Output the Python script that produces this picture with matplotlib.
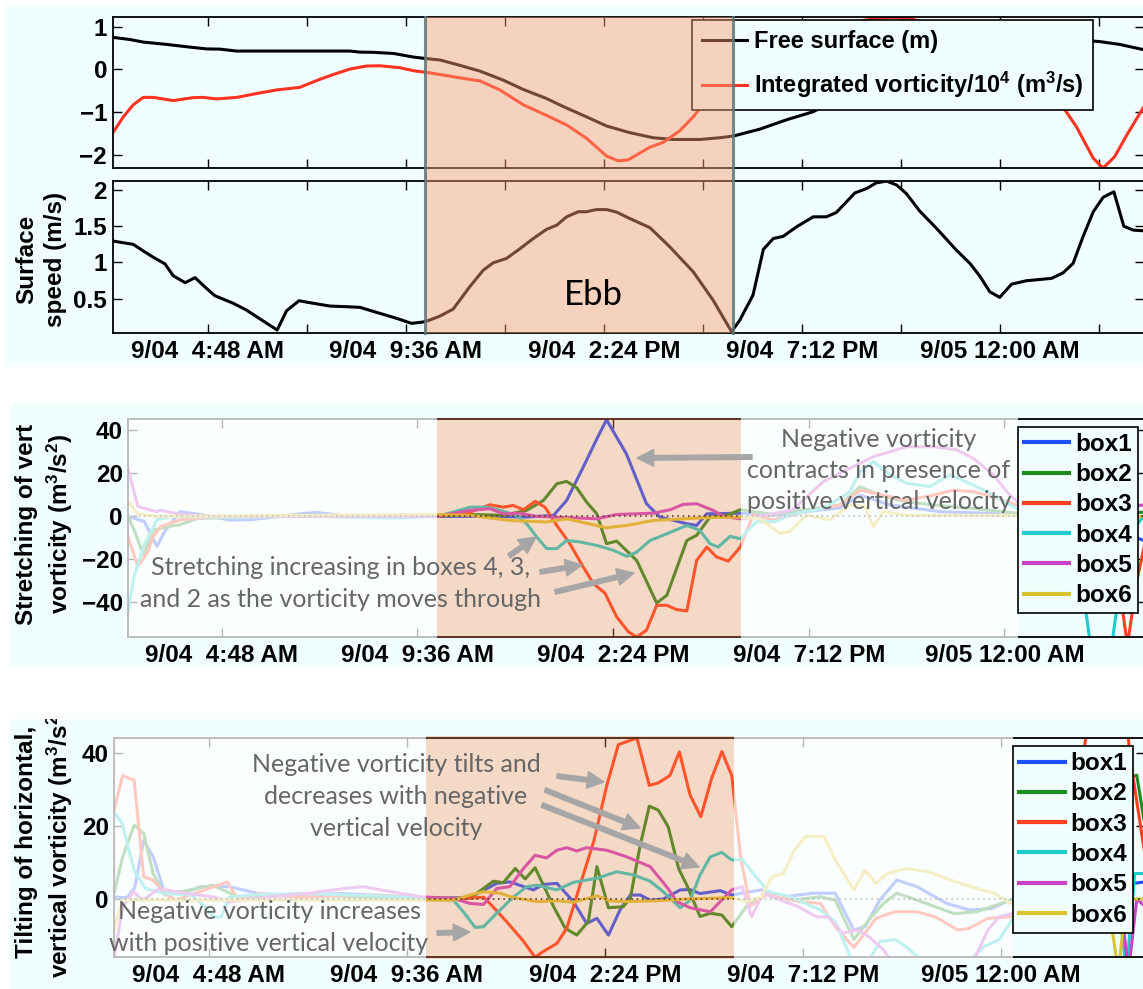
import matplotlib
matplotlib.use("Agg")
import matplotlib.pyplot as plt
from matplotlib.patches import Rectangle, FancyArrowPatch, ArrowStyle
from matplotlib.lines import Line2D
from matplotlib.transforms import blended_transform_factory

plt.rcParams['font.family'] = ['Liberation Sans', 'DejaVu Sans']
plt.rcParams['font.weight'] = 'bold'
plt.rcParams['mathtext.fontset'] = 'custom'
plt.rcParams['mathtext.rm'] = 'Liberation Sans:bold'
plt.rcParams['mathtext.it'] = 'Liberation Sans:bold'
plt.rcParams['mathtext.bf'] = 'Liberation Sans:bold'

# ---------------------------------------------------------------- time axis
# hours since 9/04 00:00
T_START, T_END = 2.5, 27.5
EBB_START, EBB_END = 10.07, 17.53
XTICKS = [4.8, 9.6, 14.4, 19.2, 24.0]
XLABELS = ['9/04  4:48 AM', '9/04  9:36 AM', '9/04  2:24 PM', '9/04  7:12 PM', '9/05 12:00 AM']
MINOR_TICKS = [7.2, 12.0, 16.8, 21.6, 26.4]

# ---------------------------------------------------------------- top panel
FREE_T = [2.5, 2.91, 3.23, 3.80, 4.29, 4.77, 5.09, 5.50, 6.23, 7.00, 8.25, 8.49, 8.81, 9.30, 9.78,
          10.06, 10.43, 10.83, 11.40, 11.96, 12.45, 13.01, 13.42, 13.98, 14.47, 15.03, 15.60, 16.08,
          16.73, 17.21, 17.54, 18.18, 18.83, 19.48, 19.80, 20.5, 21.2, 22.0, 22.8, 23.6, 24.4, 25.2,
          25.8, 26.18, 26.44, 26.91, 27.5]
FREE_V = [0.75, 0.70, 0.64, 0.585, 0.53, 0.48, 0.475, 0.43, 0.43, 0.43, 0.43, 0.405, 0.40, 0.374, 0.29,
          0.257, 0.22, 0.117, -0.04, -0.25, -0.47, -0.68, -0.87, -1.11, -1.325, -1.48, -1.60, -1.64,
          -1.64, -1.60, -1.56, -1.40, -1.18, -0.99, -0.83, -0.55, -0.28, 0.02, 0.30, 0.50, 0.62, 0.70,
          0.70, 0.67, 0.65, 0.585, 0.46]

VORT_T = [2.5, 2.75, 2.99, 3.23, 3.48, 3.96, 4.45, 4.69, 5.01, 5.50, 6.06, 6.47, 7.03, 7.52, 7.84,
          8.25, 8.65, 8.97, 9.46, 9.78, 10.18, 10.43, 10.99, 11.40, 11.88, 12.45, 12.93, 13.50, 13.98,
          14.47, 14.75, 14.99, 15.52, 15.84, 16.25, 16.57, 16.81, 17.5, 18.5, 19.5, 20.5, 21.05, 21.4,
          21.8, 22.5, 23.5, 24.5, 25.0, 25.5, 25.86, 26.27, 26.51, 26.79, 27.08, 27.5]
VORT_V = [-1.48, -1.11, -0.83, -0.655, -0.655, -0.73, -0.66, -0.655, -0.69, -0.655, -0.55, -0.48, -0.42,
          -0.23, -0.12, 0.01, 0.08, 0.085, 0.04, -0.03, -0.08, -0.12, -0.21, -0.27, -0.48, -0.83, -1.04,
          -1.30, -1.61, -2.03, -2.14, -2.12, -1.82, -1.71, -1.43, -1.11, -0.82, -0.2, 0.4, 0.85, 1.12,
          1.2, 1.22, 1.2, 1.0, 0.6, 0.0, -0.4, -0.83, -1.34, -2.08, -2.31, -2.04, -1.54, -0.87]

SPEED_T = [2.5, 2.99, 3.23, 3.48, 3.76, 3.96, 4.25, 4.49, 4.74, 4.97, 5.42, 5.74, 6.23, 6.48, 6.71,
           7.01, 7.28, 7.76, 8.17, 8.49, 8.89, 9.38, 9.74, 10.06, 10.18, 10.43, 10.75, 11.15, 11.48,
           11.72, 12.04, 12.37, 12.69, 13.01, 13.26, 13.50, 13.78, 13.98, 14.22, 14.47, 14.71, 15.03,
           15.52, 16.00, 16.57, 17.05, 17.50, 17.70, 18.02, 18.27, 18.51, 18.75, 19.07, 19.48, 19.80,
           20.04, 20.49, 20.77, 21.01, 21.26, 21.50, 21.74, 22.06, 22.47, 22.95, 23.28, 23.52, 23.76,
           24.00, 24.29, 24.65, 25.26, 25.54, 25.78, 26.02, 26.27, 26.51, 26.77, 27.01, 27.24, 27.5]
SPEED_V = [1.295, 1.25, 1.16, 1.07, 0.98, 0.816, 0.72, 0.79, 0.655, 0.54, 0.434, 0.34, 0.158, 0.066,
           0.333, 0.47, 0.443, 0.397, 0.388, 0.379, 0.31, 0.227, 0.158, 0.18, 0.204, 0.259, 0.356, 0.664,
           0.894, 0.995, 1.055, 1.19, 1.33, 1.456, 1.515, 1.63, 1.70, 1.70, 1.73, 1.73, 1.695, 1.607,
           1.48, 1.216, 0.87, 0.48, 0.043, 0.204, 0.55, 1.18, 1.33, 1.36, 1.49, 1.63, 1.63, 1.69, 1.96,
           2.02, 2.10, 2.123, 2.07, 1.95, 1.71, 1.47, 1.17, 0.986, 0.81, 0.595, 0.517, 0.70, 0.747,
           0.78, 0.857, 0.986, 1.354, 1.70, 1.90, 1.976, 1.50, 1.446, 1.437]

# ---------------------------------------------------------------- stretching of vertical vorticity
S1_T = [2.5, 2.9, 3.21, 3.40, 3.77, 4.24, 5.0, 5.55, 6.87, 7.15, 7.81, 8.75, 9.22, 10.06, 11.3, 12.28,
        12.94, 13.26, 13.67, 14.0, 14.24, 14.73, 15.22, 15.55, 16.21, 16.45, 16.7, 17.52, 18.3, 19.15,
        19.97, 20.46, 21.2, 22.42, 24.3, 25.5, 26.5, 27.5]
S1_V = [0, -2.4, -14, -7, 2.2, 1, -1.7, -1.5, 1.5, 1.8, 0.3, -0.5, 0.5, 0, 0, -0.3, 0.5, 7.4, 23, 36,
        45, 29, 5.9, -0.3, -3.4, -4.2, 1.2, 1.5, 0.5, 2.2, 4, 9.9, 5.3, 2.2, 1, 0, -5, -11.7]
S2_T = [2.5, 2.65, 2.88, 3.12, 3.5, 3.77, 4.2, 5.0, 6.5, 8.0, 9.5, 10.06, 10.89, 11.71, 12.28, 12.69,
        13.02, 13.26, 13.51, 13.75, 14.0, 14.24, 14.49, 14.98, 15.47, 15.72, 16.21, 16.45, 16.78, 17.19,
        17.52, 18.3, 19.97, 20.46, 20.95, 21.6, 22.42, 23.24, 24.3, 26.0, 27.5]
S2_V = [0, -6.3, -17.9, -6.3, -4.7, -3.9, -1, -0.5, 0.5, 0, 0.3, 0, 0.9, 0.5, 2.8, 7.4, 15.2, 16.3, 13.3,
        6.7, 1.2, -12.7, -11.5, -20.5, -40.3, -36.7, -11.2, -8.8, -0.3, 0.5, 3.1, 1, 5.3, 13.8, 9.9, 6.8,
        5, 3.7, 1.5, 1, 2]
S3_T = [2.5, 2.74, 2.97, 3.12, 3.30, 3.8, 4.5, 6.0, 8.0, 10.06, 10.89, 11.38, 11.71, 11.95, 12.2, 12.49,
        12.73, 13.02, 13.34, 13.67, 13.92, 14.2, 14.49, 14.78, 14.98, 15.22, 15.47, 15.72, 15.96, 16.21,
        16.45, 16.7, 16.94, 17.23, 17.52, 17.84, 18.33, 19.15, 19.97, 20.46, 21.03, 21.6, 22.26, 22.75,
        23.24, 23.73, 24.3, 25.5, 26.8, 27.02, 27.25, 27.5]
S3_V = [-9.4, -23.3, -17.1, -9.4, -4.7, -1.5, -0.5, 0, 0.3, 0, 2, 5.4, 4.3, 5.1, 3.1, 7, 4.3, -4.2, -12.7,
        -23.6, -31.3, -35.7, -46.8, -53.8, -56.1, -53, -41.4, -41.4, -43.4, -44, -20.5, -14.3, -18.9,
        -20.8, -14.3, 0.7, -1.6, 2.2, 5.3, 12.2, 9.9, 7.5, 9.9, 12.2, 11.5, 9.1, 5.3, 2, -30, -60, -30, -8]
S4_T = [2.5, 2.65, 2.88, 3.21, 3.6, 5.0, 7.0, 9.0, 10.06, 10.48, 10.89, 11.3, 11.63, 12.04, 12.28, 12.53,
        12.77, 13.02, 13.26, 13.59, 14.0, 14.41, 14.74, 14.98, 15.31, 15.72, 16.21, 16.53, 16.78, 16.98,
        17.27, 17.52, 17.92, 18.4, 18.74, 19.56, 20.21, 20.46, 20.79, 21.2, 21.6, 22.18, 22.67, 23.24,
        23.73, 24.14, 24.3, 25.5, 25.9, 26.15, 26.6, 26.85, 27.2, 27.5]
S4_V = [-44.3, -28, -14, -1.6, 0, -0.5, 0, -0.8, 0, 2, 4.3, 4.3, 2.8, 0.5, -3.4, -9.6, -15, -15, -11.2,
        -11.9, -13.5, -15.8, -18.6, -16.6, -11.2, -8.1, -4.2, -6.5, -12.7, -14.3, -9.3, -10.4, -2.4,
        -2.4, 0.7, 3.7, 11.5, 20.8, 25.5, 19.3, 15.4, 13.9, 19.3, 14.6, 10, 5.3, 3.7, -5, -30, -65, -65,
        -30, -5, 2]
S5_T = [2.5, 2.74, 3.21, 3.30, 3.77, 4.5, 10.06, 10.89, 11.38, 11.71, 12.12, 12.53, 13.34, 14.0, 14.49,
        15.39, 15.8, 16.12, 16.45, 16.86, 17.11, 17.52, 18.0, 18.8, 19.56, 20.21, 20.79, 21.6, 22.26,
        22.83, 23.24, 23.73, 24.06, 24.3, 25.5, 27.5]
S5_V = [22.4, 4.6, 2.2, 2.9, 1, 0, 0, 2.8, 3.6, 1.2, 1.5, 0, -0.6, -1.1, 0.9, 1.5, 3.1, 5.6, 5.9, 2.8, 0,
        -1.1, 0, 3, 16.2, 22.4, 27.8, 32.4, 32.4, 31, 27, 19.3, 11.6, 7, 4, 5.3]
S6_T = [2.5, 2.74, 3.2, 10.06, 10.89, 11.87, 12.77, 13.26, 14.24, 14.74, 15.39, 16.62, 17.52, 18.0, 18.5,
        18.74, 19.15, 19.72, 20.21, 20.58, 20.79, 21.03, 21.6, 24.3, 27.5]
S6_V = [6.9, 1.2, 0, 0.9, 0.5, -1.9, -2.6, -1.1, -5.3, -4.2, -1.9, -0.6, -0.3, -1, -8, -7, 0.7, -1.6,
        5.3, 4.6, -4.8, 2.2, 0.5, 0.5, 0]

# ---------------------------------------------------------------- tilting of horizontal vorticity
B1_T = [2.5, 2.8, 3.0, 3.22, 3.45, 3.73, 4.38, 4.6, 5.3, 6.0, 7.0, 8.0, 9.0, 10.08, 11.13, 11.78, 12.1,
        12.67, 12.91, 13.24, 13.64, 13.96, 14.21, 14.49, 14.77, 15.02, 15.26, 15.5, 15.82, 16.23, 16.47,
        16.71, 17.2, 17.48, 18.19, 18.73, 19.45, 19.99, 20.44, 20.71, 21.07, 21.48, 21.97, 22.69, 23.24,
        23.78, 24.23, 25.5, 27.5]
B1_V = [0.6, 0.3, 3, 16.1, 11.6, 1.5, 2.4, 3.4, 3.4, 1.5, 1, 1.5, 1, 0.2, 0.4, 4.3, 4.7, 2.5, 4.0, 4.3,
        -0.7, -6.7, -5.3, -9.9, -3.0, 1.1, 1.1, -0.3, 0, 2.5, 2.6, 1.5, 2.3, 1.1, 2.5, 0.6, 1.6, 1.6,
        -8.5, -7.6, -0.3, 5.2, 3.4, -1.2, -3.0, -2.6, -0.3, 2, 4.7]
B2_T = [2.5, 2.71, 2.99, 3.22, 3.45, 3.73, 4.9, 5.5, 7.0, 9.0, 10.08, 11.13, 11.7, 11.94, 12.23, 12.47,
        12.71, 13.16, 13.44, 13.72, 14.0, 14.21, 14.49, 14.85, 15.02, 15.26, 15.48, 15.7, 15.94, 16.19,
        16.39, 16.71, 16.96, 17.24, 17.48, 17.83, 18.37, 18.91, 19.63, 19.99, 20.44, 20.8, 21.16, 21.48,
        21.97, 22.87, 23.42, 24.14, 25.5, 26.3, 27.3, 27.5]
B2_V = [1.5, 11.6, 20.3, 18, 7, 1.1, 3.8, 0.6, 1, 0.5, 0.2, 0.2, 4.9, 4.5, 8.4, 5.5, 8.6, -2.1, -8.0,
        -9.9, -6.2, 8.9, -2.4, -2.1, 0.2, 14.8, 25.5, 24.4, 19.8, 8.4, 3.8, -4.8, -3.9, -4.4, -7.6, -2.1,
        2.0, -0.3, 0.6, -0.3, -11.1, -5.8, -1.2, 1.6, -0.3, -4.0, -3.5, -0.7, 5, 30, 34, 20]
B3_T = [2.5, 2.71, 2.99, 3.22, 3.45, 3.73, 4.0, 5.25, 5.5, 6.0, 7.0, 8.0, 9.0, 10.08, 10.73, 11.46,
        11.54, 12.02, 12.43, 12.71, 12.91, 13.24, 13.48, 13.8, 14.13, 14.45, 14.73, 15.18, 15.48, 15.7,
        15.98, 16.21, 16.47, 16.73, 16.99, 17.24, 17.48, 17.7, 17.93, 18.37, 19.09, 19.63, 19.99, 20.44,
        20.98, 21.43, 21.97, 22.42, 22.96, 23.23, 23.69, 24.23, 25.5, 26.12, 27.0, 27.15, 27.5]
B3_V = [24.4, 33.9, 32.6, 6.1, 5.2, 1.5, -0.3, 4.7, 0, 1.5, 0.5, 1, 1, 0, 0, 0.5, -0.3, -6.2, -11.6, -16,
        -14.4, -12.2, -8.0, 3.8, 15.7, 31.2, 42.4, 44.2, 31.2, 31.9, 33.9, 40.4, 28.5, 22.6, 33.1, 40.5,
        33.9, 11, -2, 1.6, -0.7, -1.2, -7.6, -13.3, -5.3, -3.5, -3.5, -4.9, -8.5, -8.1, -5.3, -4.9, 5,
        48, 55, 38, 12]
B4_T = [2.5, 2.7, 2.99, 3.26, 3.73, 4.38, 4.7, 4.9, 5.1, 5.3, 6.0, 7.0, 8.0, 9.0, 10.08, 10.73, 10.97,
        11.26, 11.46, 11.78, 12.19, 12.51, 12.75, 13.24, 13.64, 14.21, 14.69, 15.1, 15.5, 15.82, 16.23,
        16.47, 16.71, 16.96, 17.24, 17.48, 17.73, 18.0, 18.37, 18.91, 19.27, 19.63, 19.99, 20.4, 20.8,
        21.07, 21.43, 21.7, 22.1, 23.24, 23.6, 23.96, 24.27, 26.0, 26.85, 27.05, 27.25, 27.5]
B4_V = [23.9, 20.7, 7.9, 2.9, 1.5, 1.1, -2.1, -4.9, -4.9, 0.6, 1.2, 1.5, 1.2, 0.8, 0.2, -0.3, -3.5, -7.8,
        -7.6, -3.9, 0.6, 3.4, 3.8, 2.5, 4.6, 5.7, 7.5, 6.6, 4.9, 2.0, -2.4, -0.3, 6.6, 11.6, 12.8, 10.7,
        10.9, 7.0, 2.0, 0.6, -1.2, -3.0, -6.2, -17, -17, -11.7, -11.1, -13, -17, -17, -13, -11.2, -5.8,
        0, 0, -20, 7, 7]
B5_T = [2.5, 2.71, 2.97, 3.2, 3.6, 4.1, 4.9, 5.3, 6.23, 7.16, 8.09, 8.55, 9.02, 9.95, 10.73, 11.13,
        11.46, 11.78, 12.1, 12.43, 12.71, 12.99, 13.24, 13.48, 13.72, 13.96, 14.45, 14.93, 15.5, 15.9,
        16.15, 16.47, 16.96, 17.2, 17.48, 17.73, 17.96, 18.23, 18.55, 19.09, 19.54, 19.81, 20.17, 20.53,
        20.8, 21.16, 21.4, 23.3, 23.69, 23.96, 24.27, 26.0, 26.9, 27.1, 27.3, 27.5]
B5_V = [-16.5, -2.1, 2, -0.3, 2.9, 1.8, 0.6, -0.8, 0.6, 1.5, 2.9, 3.4, 2.4, 0.6, 0.2, -1.2, -1.5, 2.9,
        3.4, 8.4, 12.0, 11.3, 13.4, 14.1, 13.2, 14.1, 13.4, 11.6, 8.9, 3.4, -0.7, -2.4, -3.5, -0.7, 2.5,
        3.4, -4.9, 1.5, 0.2, -2.1, -4.9, -4.9, -9.4, -8.5, -10.3, -14, -18, -18, -8.5, -4.9, -4.0, 0, 0,
        -20, 0, -2]
B6_T = [2.5, 2.71, 10.08, 10.73, 11.13, 11.46, 11.86, 12.19, 12.75, 13.24, 13.64, 14.21, 14.53, 14.93,
        15.58, 16.39, 17.48, 17.83, 18.19, 18.46, 18.73, 19.0, 19.27, 19.72, 19.99, 20.44, 20.71, 20.98,
        21.25, 21.7, 22.24, 22.78, 23.42, 23.87, 24.23, 26.6, 26.85, 27.05, 27.5]
B6_V = [-8.5, -0.3, -0.3, -0.3, 1.1, 2.0, 1.6, 0.4, -0.7, -0.5, -0.9, 0.9, -0.5, -0.7, -0.5, 0, 0.4,
        -0.7, 0.6, 6.1, 7.0, 13.4, 17.2, 17.1, 10.7, 2.5, 7.9, 4.3, 7.0, 8.4, 7.5, 5.2, 2.9, 1.5, -1.2,
        0, -20, 0, 0]

BOX_NAMES = ['box1', 'box2', 'box3', 'box4', 'box5', 'box6']
BOX_COLORS = ['#1f4fff', '#1f8a1f', '#ff3f20', '#1ecccc', '#c943c9', '#d6c430']

# ---------------------------------------------------------------- styling constants
W, H = 1143, 989
CYAN = '#f0fefe'
PEACH_TOP = '#fd9e72'
PEACH = '#ff864a'
NOTE_GRAY = '#666666'
ARROW_GRAY = '#a6a6a6'
FS = 17.5

fig = plt.figure(figsize=(W / 100, H / 100), dpi=100, facecolor='white')


def fx(x):
    return x / W


def fy(y):
    return 1 - y / H


def frame(x0, y0, x1, y1):
    return [fx(x0), fy(y1), (x1 - x0) / W, (y1 - y0) / H]


# light cyan panel backgrounds
for x0, y0, x1, y1 in [(5, 5, 1143, 367), (10, 404, 1143, 667), (10, 719, 1143, 989)]:
    fig.add_artist(Rectangle((fx(x0), fy(y1)), (x1 - x0) / W, (y1 - y0) / H,
                             transform=fig.transFigure, facecolor=CYAN,
                             edgecolor='none', zorder=-5))

ax1 = fig.add_axes(frame(113, 17.3, 1144, 168.3))
ax2 = fig.add_axes(frame(113, 181, 1144, 332.7))
ax3 = fig.add_axes(frame(128, 419.3, 1147, 636.7))
ax4 = fig.add_axes(frame(114, 737.7, 1145, 957.3))


def style(ax, yticks, ylabels, ylim, xlabels=True, minor=False, ypad=4.3):
    ax.set_facecolor(CYAN)
    ax.set_xlim(T_START, T_END)
    ax.set_ylim(*ylim)
    ax.set_yticks(yticks)
    ax.set_yticklabels(ylabels)
    ticks = sorted(XTICKS + (MINOR_TICKS if minor else []))
    ax.set_xticks(ticks)
    if xlabels:
        ax.set_xticklabels([XLABELS[XTICKS.index(t)] if t in XTICKS else '' for t in ticks])
    else:
        ax.set_xticklabels([])
    ax.tick_params(axis='both', direction='in', length=6.5, width=1.0, top=True,
                   right=True, labelsize=FS)
    ax.tick_params(axis='x', pad=5.0)
    ax.tick_params(axis='y', pad=ypad)
    for s in ax.spines.values():
        s.set_linewidth(1.3)


# ---- free surface and integrated vorticity
l_free, = ax1.plot(FREE_T, FREE_V, color='black', lw=2.2, label='Free surface (m)')
l_vort, = ax1.plot(VORT_T, VORT_V, color='#ff3322', lw=2.2,
                   label='Integrated vorticity/10$^4$ (m$^3$/s)')
style(ax1, [-2, -1, 0, 1], ['\u22122', '\u22121', '0', '1'], (-2.315, 1.22),
      xlabels=False, minor=True)
leg = ax1.legend(handles=[l_free, l_vort], loc='upper left',
                 bbox_to_anchor=(fx(692), fy(20)), bbox_transform=fig.transFigure,
                 borderaxespad=0, fontsize=17, handlelength=1.9, handletextpad=0.3,
                 borderpad=0.42, labelspacing=0.72, fancybox=False, framealpha=1,
                 facecolor=CYAN, edgecolor='black')
leg.get_frame().set_linewidth(1.2)

# ---- surface speed
ax2.plot(SPEED_T, SPEED_V, color='black', lw=2.2)
style(ax2, [0.5, 1, 1.5, 2], ['0.5', '1', '1.5', '2'], (0.029, 2.125), minor=True)

# ebb window spanning both top axes
top_tr = blended_transform_factory(ax1.transData, fig.transFigure)
y_lo, y_hi = fy(332.7), fy(17.3)
fig.add_artist(Rectangle((EBB_START, y_lo), EBB_END - EBB_START, y_hi - y_lo, transform=top_tr,
                         facecolor=PEACH_TOP, alpha=0.45, edgecolor='none', zorder=3))
for t in (EBB_START, EBB_END):
    fig.add_artist(Line2D([t, t], [y_lo, y_hi], transform=top_tr, color='#607676',
                          lw=2.2, alpha=0.85, zorder=3))

# ---- box panels
STRETCH = [(S1_T, S1_V), (S2_T, S2_V), (S3_T, S3_V), (S4_T, S4_V), (S5_T, S5_V), (S6_T, S6_V)]
TILT = [(B1_T, B1_V), (B2_T, B2_V), (B3_T, B3_V), (B4_T, B4_V), (B5_T, B5_V), (B6_T, B6_V)]


def box_panel(ax, series, ylim, yticks, legend_xy, legend_t):
    handles = []
    for (t, v), name, c in zip(series, BOX_NAMES, BOX_COLORS):
        h, = ax.plot(t, v, color=c, lw=2.2, label=name, zorder=2)
        handles.append(h)
    ax.axhline(0, color='#222222', lw=1.2, ls=(0, (1, 2.2)), zorder=3)
    style(ax, yticks, [str(v).replace('-', '\u2212') for v in yticks], ylim, ypad=3.6)
    tr = blended_transform_factory(ax.transData, ax.transAxes)
    # faded (outside ebb) and highlighted (ebb) windows
    for a, b in [(T_START - 0.06, EBB_START), (EBB_END, legend_t)]:
        ax.add_patch(Rectangle((a, -0.006), b - a, 1.012, transform=tr, facecolor='white',
                               alpha=0.72, edgecolor='none', zorder=4, clip_on=False))
    ax.add_patch(Rectangle((EBB_START, -0.006), EBB_END - EBB_START, 1.012, transform=tr,
                           facecolor=PEACH, alpha=0.3, edgecolor='none', zorder=4, clip_on=False))
    lg = ax.legend(handles=handles, loc='upper left', bbox_to_anchor=legend_xy,
                   bbox_transform=fig.transFigure, borderaxespad=0, fontsize=FS,
                   handlelength=1.88, handletextpad=0.25, borderpad=0.25, labelspacing=0.3,
                   fancybox=False, framealpha=1, facecolor=CYAN, edgecolor='black')
    lg.get_frame().set_linewidth(1.2)
    lg.set_zorder(6)
    for ln in lg.get_lines():
        ln.set_linewidth(3)


box_panel(ax3, STRETCH, (-56, 45.2), [-40, -20, 0, 20, 40], (fx(1017.7), fy(426.7)), 24.33)
box_panel(ax4, TILT, (-16.0, 44.3), [0, 20, 40], (fx(1012.8), fy(746)), 24.29)

# ---- axis titles
fig.text(fx(41), fy(259.5), 'Surface\nspeed (m/s)', rotation=90, ha='center', va='center',
         fontsize=FS, fontweight='bold', linespacing=1.3, multialignment='center')
fig.text(fx(45), fy(524), 'Stretching of vert\nvorticity (m$^3$/s$^2$)', rotation=90,
         ha='center', va='center', fontsize=FS, fontweight='bold', linespacing=1.3,
         multialignment='center')
fig.text(fx(45), fy(842), 'Tilting of horizontal,\nvertical vorticity (m$^3$/s$^2$)', rotation=90,
         ha='center', va='center', fontsize=FS, fontweight='bold', linespacing=1.3,
         multialignment='center', zorder=3)
# white band above the lower panel trims the long axis title
fig.add_artist(Rectangle((0, fy(718.5)), fx(400), fy(669) - fy(718.5), transform=fig.transFigure,
                         facecolor='white', edgecolor='none', zorder=4))

# ---- notes
NOTE_KW = dict(family='Lato', fontweight='normal', color=NOTE_GRAY, fontsize=18,
               ha='center', va='baseline', zorder=6)
fig.text(fx(593), fy(305), 'Ebb', family='Lato', fontweight='normal', color='black',
         fontsize=25, ha='center', va='baseline', zorder=6)

notes = [
    (879, [446.7, 478.3, 509.3], ['Negative vorticity', 'contracts in presence of',
                                  'positive vertical velocity']),
    (341, [575, 607.3], ['Stretching increasing in boxes 4, 3,',
                         'and 2 as the vorticity moves through']),
    (396, [771.7, 804, 836], ['Negative vorticity tilts and', 'decreases with negative',
                              'vertical velocity']),
    (269, [919, 950.7], ['Negative vorticity increases', 'with positive vertical velocity']),
]
for cx, ys, lines in notes:
    for y, s in zip(ys, lines):
        fig.text(fx(cx), fy(y), s, **NOTE_KW)

arrows = [
    ((752, 457), (637, 458)),
    ((509, 556), (536, 537)),
    ((540, 572), (582, 565)),
    ((555, 592), (634, 573)),
    ((557, 776), (604, 782)),
    ((545, 790), (640, 828)),
    ((542, 805), (699, 867)),
    ((437, 933), (470, 932)),
]
style_arrow = ArrowStyle('Simple', head_length=12, head_width=12, tail_width=3.3)
for (xa, ya), (xb, yb) in arrows:
    fig.add_artist(FancyArrowPatch((fx(xa), fy(ya)), (fx(xb), fy(yb)), transform=fig.transFigure,
                                   arrowstyle=style_arrow, mutation_scale=1, color=ARROW_GRAY,
                                   shrinkA=0, shrinkB=0, zorder=6))

fig.savefig('out.png', dpi=100, facecolor='white')
